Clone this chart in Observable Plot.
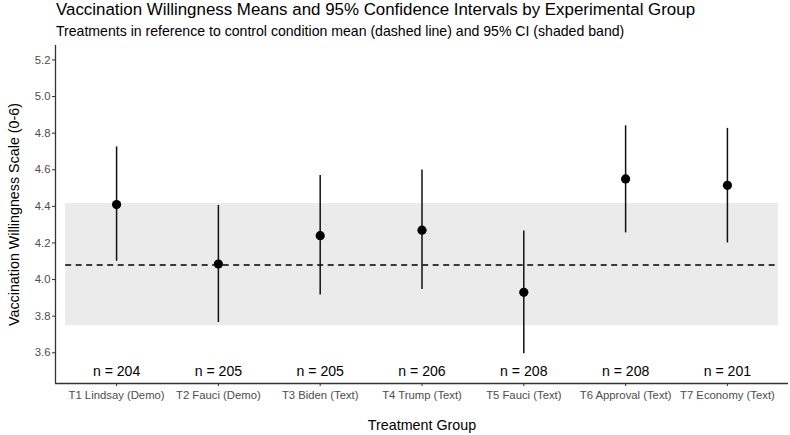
<!DOCTYPE html>
<html>
<head>
<meta charset="utf-8">
<script src="https://cdn.jsdelivr.net/npm/d3@7"></script>
<script src="https://cdn.jsdelivr.net/npm/@observablehq/plot@0.6"></script>
<style>
  body { margin: 0; background: #fff; font-family: "Liberation Sans", Arial, sans-serif; }
  #wrap { width: 790px; height: 435px; position: relative; overflow: hidden; }
  #title { position: absolute; left: 56px; top: 0px; font-size: 16.9px; color: #000; white-space: nowrap; }
  #subtitle { position: absolute; left: 56px; top: 23px; font-size: 14.1px; color: #000; white-space: nowrap; }
  #chart { position: absolute; left: 0; top: 42px; }
  #chart svg { font-family: "Liberation Sans", Arial, sans-serif; }
  g[aria-label="y-axis tick label"] text, g[aria-label="x-axis tick label"] text { fill: #4d4d4d; font-size: 11.3px; }
  g[aria-label="y-axis label"] text, g[aria-label="x-axis label"] text { fill: #000; font-size: 14.3px; }
</style>
</head>
<body>
<div id="wrap">
  <div id="title">Vaccination Willingness Means and 95% Confidence Intervals by Experimental Group</div>
  <div id="subtitle">Treatments in reference to control condition mean (dashed line) and 95% CI (shaded band)</div>
  <div id="chart"></div>
</div>
<script>
const categories = ["T1 Lindsay (Demo)", "T2 Fauci (Demo)", "T3 Biden (Text)", "T4 Trump (Text)", "T5 Fauci (Text)", "T6 Approval (Text)", "T7 Economy (Text)"];
const means = [4.41, 4.085, 4.24, 4.27, 3.93, 4.55, 4.515];
const ciLow = [4.10, 3.765, 3.915, 3.945, 3.595, 4.255, 4.20];
const ciHigh = [4.725, 4.405, 4.568, 4.598, 4.266, 4.84, 4.826];
const sampleSizes = [204, 205, 205, 206, 208, 208, 201];
const controlMean = 4.08;
const controlLow = 3.748;
const controlHigh = 4.416;
const yTicks = [3.6, 3.8, 4.0, 4.2, 4.4, 4.6, 4.8, 5.0, 5.2];

const rows = categories.map((c, i) => ({idx: i + 1, cat: c, mean: means[i], lo: ciLow[i], hi: ciHigh[i], n: sampleSizes[i]}));
const nCat = categories.length;
const xDomain = [0.4, nCat + 0.6];
const yDomain = [3.432, 5.279];

const chart = Plot.plot({
  width: 790,
  height: 393,
  marginTop: 3,
  marginBottom: 52,
  marginLeft: 55,
  marginRight: 2,
  x: {type: "linear", domain: xDomain},
  y: {domain: yDomain},
  marks: [
    Plot.rect([{x1: 0.5, x2: nCat + 0.5, y1: controlLow, y2: controlHigh}], {x1: "x1", x2: "x2", y1: "y1", y2: "y2", fill: "#ebebeb"}),
    Plot.ruleY([controlMean], {x1: 0.5, x2: nCat + 0.5, stroke: "#000", strokeWidth: 1.5, strokeDasharray: "6,4.5"}),
    Plot.ruleX(rows, {x: "idx", y1: "lo", y2: "hi", stroke: "#111", strokeWidth: 1.5}),
    Plot.dot(rows, {x: "idx", y: "mean", r: 4.6, fill: "#000", stroke: "none"}),
    Plot.text(rows, {x: "idx", y: () => 3.5, text: d => `n = ${d.n}`, fontSize: 14.1, fill: "#000"}),
    Plot.axisY({ticks: yTicks, tickFormat: d3.format(".1f"), tickSize: 3, tickPadding: 2, label: "Vaccination Willingness Scale (0-6)", labelAnchor: "center", labelArrow: "none", labelOffset: 47, stroke: "#333"}),
    Plot.axisX({ticks: d3.range(1, nCat + 1), tickFormat: d => categories[d - 1], tickSize: 3, tickPadding: 4, label: "Treatment Group", labelAnchor: "center", labelArrow: "none", labelOffset: 46, stroke: "#333"}),
    Plot.ruleX([xDomain[0]], {stroke: "#333", strokeWidth: 1.3}),
    Plot.ruleY([yDomain[0]], {stroke: "#333", strokeWidth: 1.3})
  ]
});
document.getElementById("chart").appendChild(chart);
</script>
</body>
</html>
